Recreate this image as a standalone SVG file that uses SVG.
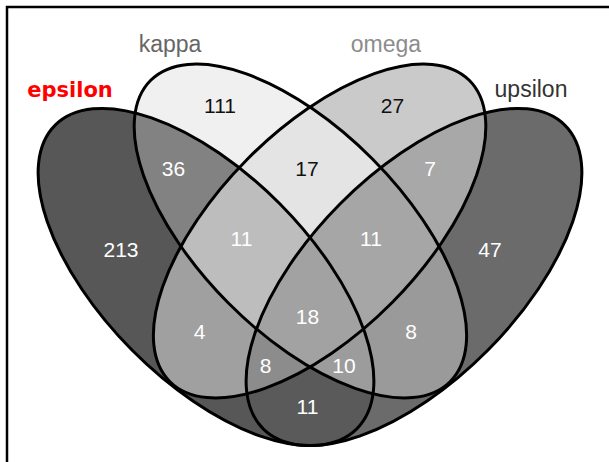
<svg xmlns="http://www.w3.org/2000/svg" xmlns:xlink="http://www.w3.org/1999/xlink" width="609" height="462" viewBox="0 0 609 462">
<style>
.outline{fill:none;stroke:#000;stroke-width:3}
.num{font-family:"Liberation Sans",Arial,sans-serif;font-size:21px;text-anchor:middle;fill:#fff}
.dark{fill:#111}
.lbl{font-family:"Liberation Sans",Arial,sans-serif;font-size:23px;text-anchor:middle}
</style>
<defs>
<ellipse id="eE" cx="206" cy="277" rx="214" ry="104" transform="rotate(45.2 206 277)"/>
<ellipse id="eK" cx="300.4" cy="231" rx="212.4" ry="101.9" transform="rotate(45.2 300.4 231)"/>
<ellipse id="eO" cx="319.6" cy="231" rx="212.4" ry="101.9" transform="rotate(-45.2 319.6 231)"/>
<ellipse id="eU" cx="414" cy="277" rx="214" ry="104" transform="rotate(-45.2 414 277)"/>
<clipPath id="cE"><use href="#eE"/></clipPath>
<clipPath id="cK"><use href="#eK"/></clipPath>
<clipPath id="cO"><use href="#eO"/></clipPath>
<clipPath id="cU"><use href="#eU"/></clipPath>
</defs>
<rect x="7" y="7" width="640" height="500" fill="#fff" stroke="#000" stroke-width="2.5"/>
<g id="regions">
<use href="#eE" fill="#575757"/>
<use href="#eK" fill="#f0f0f0"/>
<use href="#eO" fill="#cacaca"/>
<use href="#eU" fill="#6b6b6b"/>
<g clip-path="url(#cE)"><use href="#eK" fill="#828282"/></g>
<g clip-path="url(#cE)"><use href="#eO" fill="#a0a0a0"/></g>
<g clip-path="url(#cE)"><use href="#eU" fill="#5a5a5a"/></g>
<g clip-path="url(#cK)"><use href="#eO" fill="#e4e4e4"/></g>
<g clip-path="url(#cK)"><use href="#eU" fill="#9a9a9a"/></g>
<g clip-path="url(#cO)"><use href="#eU" fill="#a8a8a8"/></g>
<g clip-path="url(#cE)"><g clip-path="url(#cK)"><use href="#eO" fill="#bdbdbd"/></g></g>
<g clip-path="url(#cE)"><g clip-path="url(#cK)"><use href="#eU" fill="#9c9c9c"/></g></g>
<g clip-path="url(#cE)"><g clip-path="url(#cO)"><use href="#eU" fill="#8c8c8c"/></g></g>
<g clip-path="url(#cK)"><g clip-path="url(#cO)"><use href="#eU" fill="#a6a6a6"/></g></g>
<g clip-path="url(#cE)"><g clip-path="url(#cK)"><g clip-path="url(#cO)"><use href="#eU" fill="#a2a2a2"/></g></g></g>
</g>
<g id="set-epsilon"><use href="#eE" class="outline"/><text x="70" y="97" font-family="'DejaVu Sans',sans-serif" font-weight="bold" font-size="21" fill="#ff0000" text-anchor="middle">epsilon</text></g>
<g id="set-kappa"><use href="#eK" class="outline"/><text class="lbl" x="170" y="52" fill="#666">kappa</text></g>
<g id="set-omega"><use href="#eO" class="outline"/><text class="lbl" x="386" y="52" fill="#8c8c8c">omega</text></g>
<g id="set-upsilon"><use href="#eU" class="outline"/><text class="lbl" x="531" y="97" fill="#333">upsilon</text></g>
<g id="counts">
<text class="num dark" x="220" y="112.5">111</text>
<text class="num dark" x="392.5" y="112.5">27</text>
<text class="num" x="173.5" y="176">36</text>
<text class="num dark" x="307" y="176">17</text>
<text class="num" x="430" y="176">7</text>
<text class="num" x="121" y="256.5">213</text>
<text class="num" x="241.5" y="246">11</text>
<text class="num" x="371" y="246">11</text>
<text class="num" x="490" y="256.5">47</text>
<text class="num" x="307.5" y="323.5">18</text>
<text class="num" x="199.5" y="339">4</text>
<text class="num" x="411" y="339">8</text>
<text class="num" x="265.5" y="372.5">8</text>
<text class="num" x="344" y="372.5">10</text>
<text class="num" x="307.5" y="414">11</text>
</g>
</svg>
